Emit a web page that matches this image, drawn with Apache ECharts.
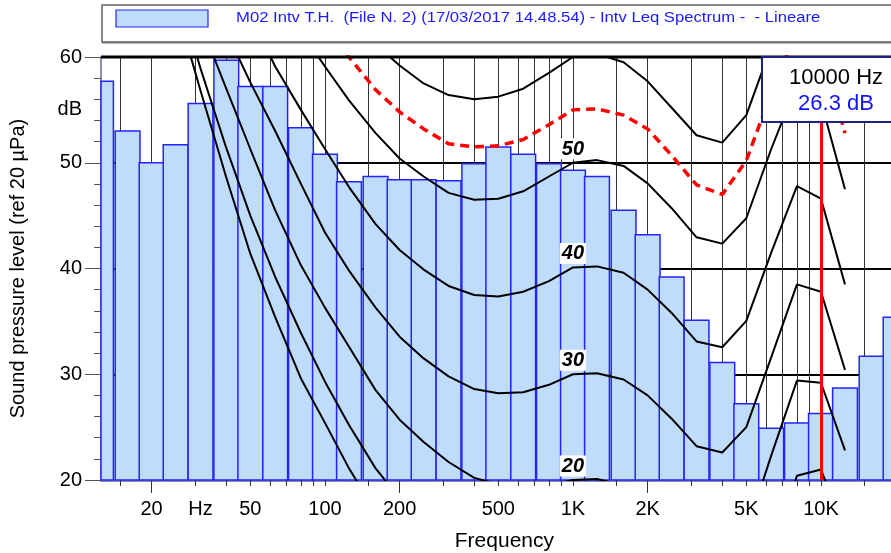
<!DOCTYPE html>
<html>
<head>
<meta charset="utf-8">
<script src="https://cdn.jsdelivr.net/npm/echarts@6/dist/echarts.min.js"></script>
<style>
  html, body { margin: 0; padding: 0; background: #fff; }
  #container { width: 891px; height: 553px; }
</style>
</head>
<body>
<div id="container"></div>
<script>
// 1/3 octave spectrum
var bandFreqs = [12.5, 16, 20, 25, 31.5, 40, 50, 63, 80, 100, 125, 160, 200, 250, 315, 400, 500, 630, 800,
                 1000, 1250, 1600, 2000, 2500, 3150, 4000, 5000, 6300, 8000, 10000, 12500, 16000, 20000];
var bandLevels = [57.7, 53.0, 50.0, 51.7, 55.6, 59.7, 57.2, 57.2, 53.3, 50.8, 48.2, 48.7, 48.4, 48.4, 48.3, 49.9, 51.5, 50.8, 49.9,
                  49.3, 48.7, 45.5, 43.2, 39.2, 35.1, 31.1, 27.2, 24.9, 25.4, 26.3, 28.7, 31.7, 35.4];

// equal loudness contours
var isoFreqs = [20, 25, 31.5, 40, 50, 63, 80, 100, 125, 160, 200, 250, 315, 400, 500, 630, 800,
                1000, 1250, 1600, 2000, 2500, 3150, 4000, 5000, 6300, 8000, 10000, 12500];
var phonLevels = [0, 10, 20, 30, 40, 50, 60];
var phon0  = [74, 65, 56.8, 48.6, 41.4, 35.4, 29.6, 25.4, 21.1, 17, 14, 11.2, 9, 7.2, 6, 5, 4.4,
              4.2, 3.7, 2.6, 1, -1.2, -3.6, -3.9, -1.1, 6.6, 15.3, 16.4, 11.6];
var phon10 = [76, 67, 58.9, 51.4, 45.0, 39.2, 33.9, 29.3, 25.2, 21.1, 18.3, 15.8, 14, 13, 12, 11, 10.5,
              10, 10.2, 9.5, 8, 6, 3.8, 3.5, 6, 13, 20.4, 21, 15];
var phon20 = [78, 70, 63.2, 57.0, 51.3, 45.5, 40.3, 36.3, 32.6, 28.5, 25.7, 23.6, 21.7, 20.2, 19.6, 19.3, 19.5,
              20.0, 20.1, 19.5, 18, 15.8, 13.2, 12.6, 15.1, 22.3, 29.4, 29.2, 22.8];
var phon30 = [82, 74, 67, 62.4, 57.6, 53.0, 48.0, 43.4, 39.8, 36.3, 33.55, 31.5, 29.8, 28.6, 28.2, 28.3, 29.0,
              30.0, 30.1, 29.5, 28.0, 25.8, 23.2, 22.6, 25.0, 31.6, 38.5, 37.8, 30.4];
var phon40 = [88, 80, 73, 68, 64, 59.1, 55.0, 51.3, 47.7, 44.2, 41.75, 39.9, 38.35, 37.5, 37.35, 37.8, 38.8,
              40.1, 40.2, 39.6, 38.0, 35.8, 33.1, 32.55, 35.05, 41.5, 47.8, 46.6, 38.5];
var phon50 = [94, 87, 81, 75.5, 70.5, 66, 62.4, 59.1, 55.9, 52.8, 50.4, 48.7, 47.15, 46.5, 46.6, 47.3, 48.7,
              50.0, 50.25, 49.7, 48.05, 45.7, 42.95, 42.35, 44.75, 51.3, 57.4, 55.8, 47.5];
var phon60 = [100, 93, 87, 82, 77, 73, 69, 66, 63.3, 61.2, 59.2, 57.5, 56.4, 56.0, 56.25, 57.0, 58.5,
              60.0, 60.3, 59.5, 57.7, 55.2, 52.6, 51.9, 54.5, 61.0, 67.3, 66.0, 57.0];
var phonCurves = [phon0, phon10, phon20, phon30, phon40, phon50, phon60];
var labelledPhons = [20, 30, 40, 50];

var redCurve = [95, 88, 82, 77, 72, 68, 65.5, 63.5, 60.0, 56.9, 54.8, 53.2, 51.8, 51.5, 51.6, 52.2, 53.6,
                55.0, 55.1, 54.5, 53.2, 50.7, 47.9, 47.0, 50.2, 56.6, 62.5, 61.0, 52.8];

// axis ticks and labels
var tickFreqs = [15, 20, 30, 40, 50, 60, 70, 80, 90, 100, 150, 200, 300, 400, 500, 600, 700, 800, 900,
                 1000, 1500, 2000, 3000, 4000, 5000, 6000, 7000, 8000, 9000, 10000, 15000, 20000];
var longTickFreqs = [20, 200, 2000, 20000];
var labelFreqs = [20, 31.5, 50, 100, 200, 500, 1000, 2000, 5000, 10000];
var labelTexts = ['20', 'Hz', '50', '100', '200', '500', '1K', '2K', '5K', '10K'];
var yLabelValues = [20, 30, 40, 50, 55, 60];
var yLabelTexts = ['20', '30', '40', '50', 'dB', '60'];

var cursorFreq = 10000;
var cursorLevel = 26.3;
var legendText = 'M02 Intv T.H.  (File N. 2) (17/03/2017 14.48.54) - Intv Leq Spectrum -  - Lineare';

var lg = Math.log10;
var FONT = 'Liberation Sans, Arial, sans-serif';
var xMin = lg(12.5), xMax = 4.35;

var dom = document.getElementById('container');
var myChart = echarts.init(dom);

function renderBar(params, api) {
    var lf = api.value(0), v = api.value(1);
    var p0 = api.coord([lf - 0.05, v]);
    var p1 = api.coord([lf + 0.05, 20]);
    var cs = params.coordSys;
    var rect = echarts.graphic.clipRectByRect(
        { x: p0[0], y: p0[1], width: p1[0] - p0[0], height: p1[1] - p0[1] },
        { x: cs.x, y: cs.y, width: cs.width, height: cs.height });
    if (!rect) return;
    return {
        type: 'rect',
        shape: rect,
        style: { fill: '#bfdcfb', stroke: '#2323ff', lineWidth: 1.5 }
    };
}

var series = [];
series.push({
    type: 'custom',
    name: 'spectrum',
    renderItem: renderBar,
    data: bandFreqs.map(function (f, i) { return [lg(f), bandLevels[i]]; }),
    z: 2,
    silent: true
});

phonCurves.forEach(function (vals, i) {
    var lvl = phonLevels[i];
    var k = isoFreqs.indexOf(1000);
    var s = {
        type: 'line',
        name: lvl + ' phon',
        data: isoFreqs.map(function (f, j) { return [lg(f), vals[j]]; }),
        symbol: 'none',
        lineStyle: { color: '#000', width: 2 },
        z: 3,
        silent: true
    };
    if (labelledPhons.indexOf(lvl) >= 0) {
        s.markPoint = {
            symbol: 'circle',
            symbolSize: 1,
            itemStyle: { color: 'rgba(0,0,0,0)' },
            data: [{ coord: [lg(1000), vals[k]], value: lvl }],
            label: {
                show: true, position: 'top', distance: 3,
                color: '#000', fontSize: 20, fontWeight: 'bold', fontStyle: 'italic',
                fontFamily: FONT, backgroundColor: '#fff', padding: [1, 2, 0, 2]
            }
        };
    }
    series.push(s);
});

series.push({
    type: 'line',
    name: 'red',
    data: isoFreqs.map(function (f, j) { return [lg(f), redCurve[j]]; }),
    symbol: 'none',
    lineStyle: { color: '#ff0000', width: 3.5, type: [9, 6] },
    z: 4,
    silent: true,
    markLine: {
        silent: true,
        symbol: 'none',
        label: { show: false },
        lineStyle: { color: '#ff0000', width: 3, type: 'solid' },
        data: [{ xAxis: lg(cursorFreq) }]
    }
});

option = {
    backgroundColor: '#FFFFFF',
    animation: false,
    grid: { left: 101, top: 57, width: 248 * (xMax - xMin), height: 423, outerBoundsMode: 'none', containLabel: false },
    xAxis: [{
        type: 'value',
        min: xMin,
        max: xMax,
        name: 'Frequency',
        nameLocation: 'middle',
        nameGap: 51,
        nameTextStyle: { color: '#000', fontSize: 21, fontFamily: FONT },
        axisLine: { show: true, lineStyle: { color: '#8a8ea8', width: 3 } },
        axisTick: { show: true, length: 6, customValues: tickFreqs.map(lg), lineStyle: { color: '#333' } },
        axisLabel: {
            show: true, margin: 19, color: '#000', fontSize: 20, fontFamily: FONT,
            customValues: labelFreqs.map(lg),
            formatter: function (v) {
                var best = 0;
                for (var i = 1; i < labelFreqs.length; i++) {
                    if (Math.abs(lg(labelFreqs[i]) - v) < Math.abs(lg(labelFreqs[best]) - v)) best = i;
                }
                return labelTexts[best];
            }
        },
        splitLine: { show: true, lineStyle: { color: '#333', width: 1 } }
    }, {
        type: 'value',
        gridIndex: 0,
        position: 'bottom',
        min: xMin,
        max: xMax,
        axisLine: { show: false },
        axisLabel: { show: false },
        splitLine: { show: false },
        axisTick: { show: true, length: 13, customValues: longTickFreqs.map(lg), lineStyle: { color: '#333' } }
    }],
    yAxis: {
        type: 'value',
        min: 20,
        max: 60,
        interval: 10,
        name: 'Sound pressure level (ref 20 \u00b5Pa)',
        nameLocation: 'middle',
        nameGap: 73,
        nameTextStyle: { color: '#000', fontSize: 20, fontFamily: FONT },
        axisLine: { show: true, lineStyle: { color: '#8a8ea8', width: 2 } },
        axisTick: { show: true, length: 16, lineStyle: { color: '#555' } },
        minorTick: { show: true, splitNumber: 5, length: 7, lineStyle: { color: '#555' } },
        axisLabel: {
            margin: 19, color: '#000', fontSize: 20, fontFamily: FONT,
            customValues: yLabelValues,
            formatter: function (v) { return yLabelTexts[yLabelValues.indexOf(v)]; }
        },
        splitLine: { show: true, lineStyle: { color: '#000', width: 2 } }
    },
    graphic: [
        { type: 'rect', z: 100, shape: { x: 102, y: 5, width: 800, height: 37 },
          style: { fill: '#fff', stroke: '#666', lineWidth: 1.5 } },
        { type: 'line', z: 101, shape: { x1: 102, y1: 42.5, x2: 902, y2: 42.5 },
          style: { stroke: '#777', lineWidth: 2 } },
        { type: 'line', z: 101, shape: { x1: 101, y1: 57, x2: 891, y2: 57 },
          style: { stroke: '#000', lineWidth: 3 } },
        { type: 'rect', z: 101, shape: { x: 116, y: 10, width: 92, height: 17 },
          style: { fill: '#bfdcfb', stroke: '#2323ff', lineWidth: 1.2 } },
        { type: 'text', z: 101, x: 236, y: 18, scaleX: 1.19,
          style: { text: legendText, fill: '#1a1aff', font: '14px ' + FONT, verticalAlign: 'middle' } },
        { type: 'rect', z: 102, shape: { x: 762, y: 57, width: 150, height: 65 },
          style: { fill: '#fff', stroke: '#1a237e', lineWidth: 2 } },
        { type: 'text', z: 103, x: 836, y: 77.5,
          style: { text: cursorFreq + ' Hz', fill: '#000', font: '22px ' + FONT, align: 'center', verticalAlign: 'middle' } },
        { type: 'text', z: 103, x: 836, y: 104,
          style: { text: cursorLevel.toFixed(1) + ' dB', fill: '#1414ff', font: '22px ' + FONT, align: 'center', verticalAlign: 'middle' } }
    ],
    series: series
};

if (option && typeof option === "object") {
    myChart.setOption(option, true);
    window.onresize = function () {
        myChart.resize();
    };
}
</script>
</body>
</html>
